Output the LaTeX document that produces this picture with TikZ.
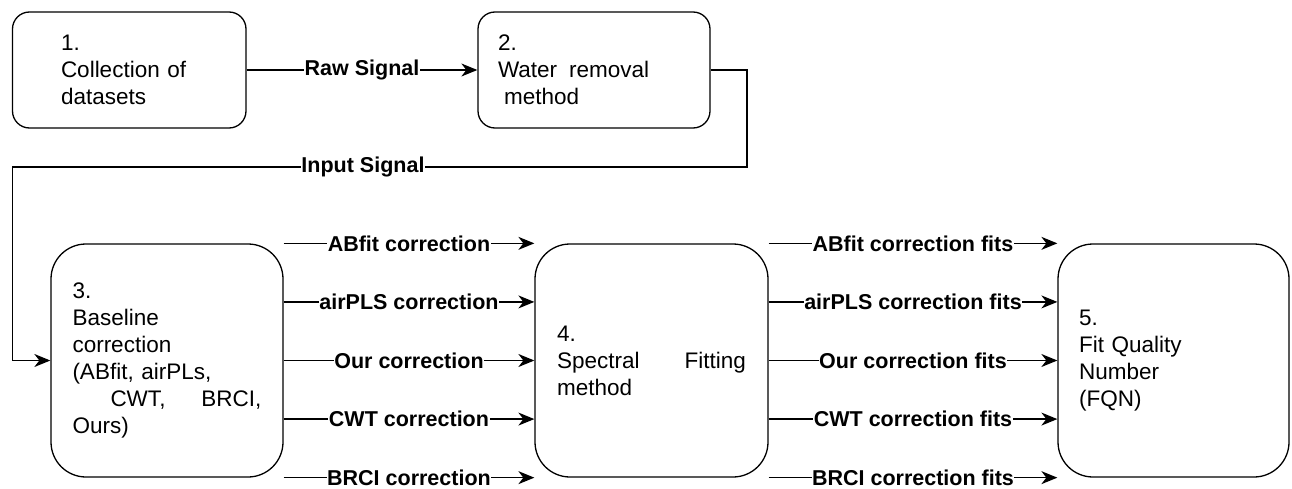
\documentclass[tikz,border=0pt]{standalone}
\usepackage{fontspec}
\setmainfont{Liberation Sans}
\usetikzlibrary{arrows.meta,calc}
\begin{document}
\begin{tikzpicture}[x=1pt,y=-1pt,
  box/.style={draw, line width=1.3pt, rounded corners=#1, align=left,
    font=\fontsize{22.5}{27}\selectfont, inner ysep=0pt},
  box/.default=17pt,
  arr/.style={line width=1.4pt, -{Stealth[length=16pt,width=13pt,inset=5pt]}},
  lbl/.style={fill=white, inner xsep=0.5pt, inner ysep=1pt,
    font=\fontsize{21.5}{24}\bfseries\selectfont},
]
\useasboundingbox (0,0) rectangle (1292,489);

\node[box=17pt, minimum width=233.5pt, minimum height=116pt, text width=136.5pt, inner xsep=0pt]
  (b1) at (129.25,70) {1.\\Collection of\\datasets};
\node[box=17pt, minimum width=232pt, minimum height=116pt, text width=192pt, inner xsep=0pt]
  (b2) at (594,70) {2.\\Water\hspace{12pt}removal\\\hspace*{6pt}method};

\node[box=35pt, minimum width=232pt, minimum height=233pt, text width=189pt, inner xsep=0pt]
  (b3) at (167,360.5) {3.\\Baseline\\correction\\(ABfit, airPLs,\\\hspace*{38pt}CWT,\hfill BRCI,\\Ours)};
\node[box=35pt, minimum width=233pt, minimum height=233pt, text width=189pt, inner xsep=0pt]
  (b4) at (651.5,360.5) {4.\\Spectral\hfill Fitting\\method};
\node[box=35pt, minimum width=231pt, minimum height=233pt, text width=189pt, inner xsep=0pt]
  (b5) at (1173.5,360.5) {5.\\Fit Quality\\Number\\(FQN)};

% Raw signal
\draw[arr] (b1) -- node[lbl] (lraw) {Raw Signal} (b2);

% Input signal
\coordinate (c1) at (747,167);
\coordinate (c2) at (12.7,167);
\draw[arr] (b2.east) -| (c1) -- node[lbl, pos=0.523] (lin) {Input Signal} (c2) |- (b3.west);

% left column
\draw[arr] (b3.north east) -- node[lbl] (l1) {ABfit correction} (b4.north west);
\draw[arr] ($(b3.north east)!0.25!(b3.south east)$) -- node[lbl] (l2) {airPLS correction} ($(b4.north west)!0.25!(b4.south west)$);
\draw[arr] (b3.east) -- node[lbl] (l3) {Our correction} (b4.west);
\draw[arr] ($(b3.north east)!0.75!(b3.south east)$) -- node[lbl] (l4) {CWT correction} ($(b4.north west)!0.75!(b4.south west)$);
\draw[arr] (b3.south east) -- node[lbl] (l5) {BRCI correction} (b4.south west);

% right column
\draw[arr] (b4.north east) -- node[lbl] (m1) {ABfit correction fits} (b5.north west);
\draw[arr] ($(b4.north east)!0.25!(b4.south east)$) -- node[lbl] (m2) {airPLS correction fits} ($(b5.north west)!0.25!(b5.south west)$);
\draw[arr] (b4.east) -- node[lbl] (m3) {Our correction fits} (b5.west);
\draw[arr] ($(b4.north east)!0.75!(b4.south east)$) -- node[lbl] (m4) {CWT correction fits} ($(b5.north west)!0.75!(b5.south west)$);
\draw[arr] (b4.south east) -- node[lbl] (m5) {BRCI correction fits} (b5.south west);
\end{tikzpicture}
\end{document}
